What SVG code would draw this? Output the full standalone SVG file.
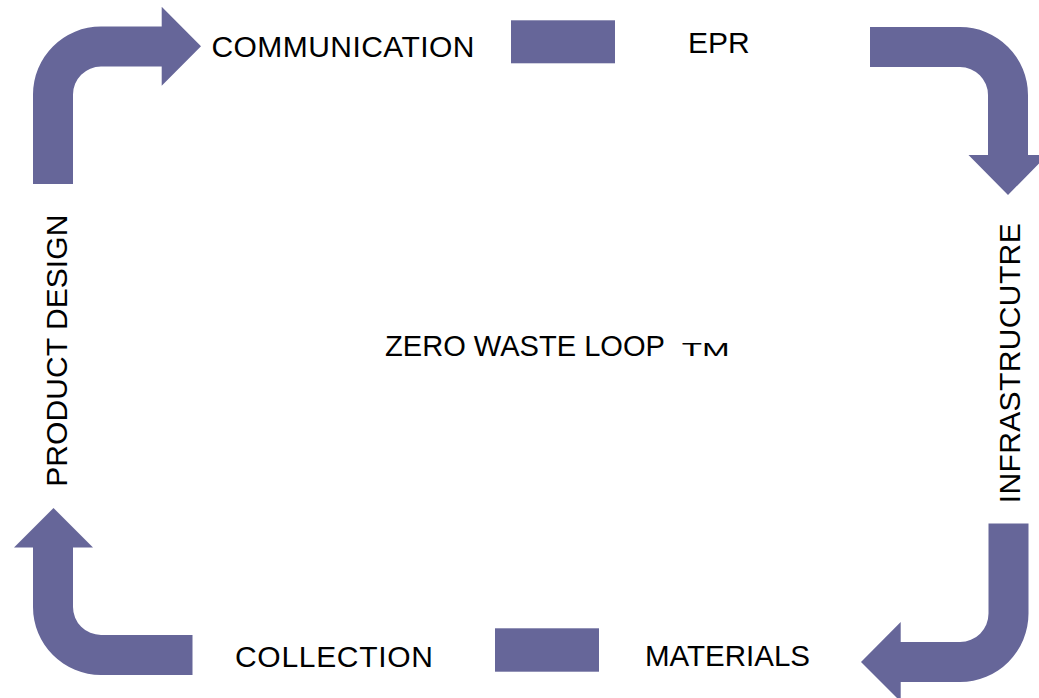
<svg xmlns="http://www.w3.org/2000/svg" width="1039" height="698" viewBox="0 0 1039 698">
<style>
.shape{fill:#666699;stroke:none}
.lbl{font-family:"Liberation Sans",Arial,sans-serif;font-size:30px;fill:#000}
</style>
<rect width="1039" height="698" fill="#fff"/>
<g id="connectors">
<path class="shape" d="M33,184 L33,94.5 A68,68 0 0 1 101,26.5 L161.7,26.5 L161.7,6.7 L201,46.2 L161.7,85.7 L161.7,66.5 L101,66.5 A28,28 0 0 0 73,94.5 L73,184 Z"/>
<path class="shape" d="M870,27 L960,27 A68,68 0 0 1 1028,95 L1028,155 L1047.5,155 L1008,195 L968.5,155 L988,155 L988,95 A28,28 0 0 0 960,67 L870,67 Z"/>
<path class="shape" d="M988.5,523.5 L1028.5,523.5 L1028.5,613.5 A68.5,68.5 0 0 1 960,682 L900.7,682 L900.7,701.7 L861,662 L900.7,622 L900.7,642 L960,642 A28.5,28.5 0 0 0 988.5,613.5 Z"/>
<path class="shape" d="M192.5,675 L101,675 A68,68 0 0 1 33,607 L33,547.5 L14,547.5 L53.5,508 L93,547.5 L73,547.5 L73,607 A28,28 0 0 0 101,635 L192.5,635 Z"/>
<rect class="shape" x="511" y="20.3" width="104" height="43"/>
<rect class="shape" x="495" y="628.3" width="104" height="43.4"/>
</g>
<g id="communication"><text class="lbl" x="211.5" y="56.5" textLength="263" lengthAdjust="spacing">COMMUNICATION</text></g>
<g id="epr"><text class="lbl" x="688" y="52.7">EPR</text></g>
<g id="infrastructure"><text class="lbl" transform="translate(1020,503.3) rotate(-90)" x="0" y="0" textLength="280" lengthAdjust="spacing">INFRASTRUCUTRE</text></g>
<g id="materials"><text class="lbl" x="645" y="665.5" textLength="165" lengthAdjust="spacingAndGlyphs">MATERIALS</text></g>
<g id="collection"><text class="lbl" x="235" y="666.5" textLength="198" lengthAdjust="spacing">COLLECTION</text></g>
<g id="product-design"><text class="lbl" transform="translate(67.3,486.7) rotate(-90)" x="0" y="0" textLength="272" lengthAdjust="spacing">PRODUCT DESIGN</text></g>
<g id="center"><text class="lbl" x="385" y="356" style="font-size:29.5px" textLength="280" lengthAdjust="spacingAndGlyphs">ZERO WASTE LOOP</text><text class="lbl" x="681.7" y="356" style="font-size:18px" textLength="48" lengthAdjust="spacingAndGlyphs">TM</text></g>
</svg>
